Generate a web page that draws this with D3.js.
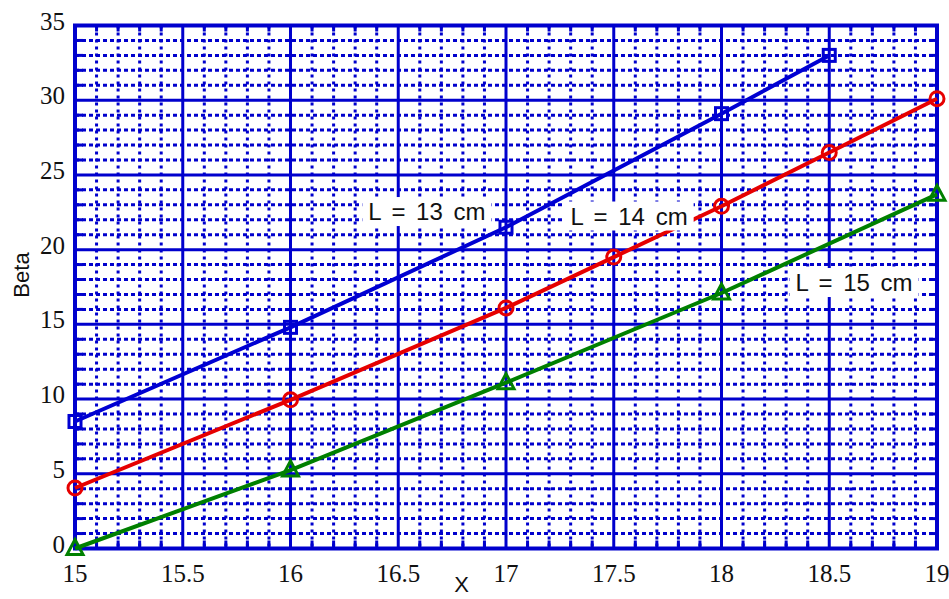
<!DOCTYPE html>
<html><head><meta charset="utf-8">
<script src="https://cdn.jsdelivr.net/npm/d3@7/dist/d3.min.js"></script>
<style>
body{margin:0;background:#fff;}
svg{display:block;}
</style></head>
<body>
<svg id="chart" width="949" height="599"></svg>
<script>
// ---- data ----
const xTicks = [15, 15.5, 16, 16.5, 17, 17.5, 18, 18.5, 19];
const yTicks = [0, 5, 10, 15, 20, 25, 30, 35];
const xL13 = [15, 16, 17, 18, 18.5];
const yL13 = [8.5, 14.8, 21.5, 29.1, 33.0];
const xL14 = [15, 16, 17, 17.5, 18, 18.5, 19];
const yL14 = [4.05, 9.95, 16.1, 19.5, 22.9, 26.5, 30.1];
const xL15 = [15, 16, 17, 18, 19];
const yL15 = [0, 5.25, 11.1, 17.1, 23.7];
const seriesNames = ["L = 13 cm", "L = 14 cm", "L = 15 cm"];
const labelPos = [[16.633, 22.55], [17.571, 22.25], [18.615, 17.8]]; // label centres in data units

const SERIF = "'Liberation Serif', 'Times New Roman', serif";
const SANS = "'Liberation Sans', Arial, sans-serif";

const svg = d3.select("#chart");
const pL = 75, pR = 937, pT = 25.5, pB = 548.5;
const x = d3.scaleLinear().domain([15, 19]).range([pL, pR]);
const y = d3.scaleLinear().domain([0, 35]).range([pB, pT]);
const blue = "rgb(0,0,205)";

const g = svg.append("g");
// minor grid
const minorX = d3.range(151, 190).map(v => v / 10).filter(v => Math.abs(v * 2 - Math.round(v * 2)) > 1e-6);
const minorY = d3.range(1, 35).filter(v => v % 5 !== 0);
g.selectAll(".mx").data(minorX).join("line")
  .attr("x1", d => x(d)).attr("x2", d => x(d)).attr("y1", pT).attr("y2", pB)
  .attr("stroke", blue).attr("stroke-width", 3).attr("stroke-dasharray", "3,4");
g.selectAll(".my").data(minorY).join("line")
  .attr("x1", pL).attr("x2", pR).attr("y1", d => y(d)).attr("y2", d => y(d))
  .attr("stroke", blue).attr("stroke-width", 3).attr("stroke-dasharray", "4,3");
// minor ticks
g.selectAll(".tb").data(minorX).join("line")
  .attr("x1", d => x(d)).attr("x2", d => x(d)).attr("y1", pB).attr("y2", pB - 8)
  .attr("stroke", blue).attr("stroke-width", 3);
g.selectAll(".tt").data(minorX).join("line")
  .attr("x1", d => x(d)).attr("x2", d => x(d)).attr("y1", pT).attr("y2", pT + 6)
  .attr("stroke", blue).attr("stroke-width", 3);
g.selectAll(".tl").data(minorY).join("line")
  .attr("x1", pL).attr("x2", pL + 8).attr("y1", d => y(d)).attr("y2", d => y(d))
  .attr("stroke", blue).attr("stroke-width", 3);
g.selectAll(".tr").data(minorY).join("line")
  .attr("x1", pR).attr("x2", pR - 8).attr("y1", d => y(d)).attr("y2", d => y(d))
  .attr("stroke", blue).attr("stroke-width", 3);
// major grid
g.selectAll(".Mx").data(xTicks).join("line")
  .attr("x1", d => x(d)).attr("x2", d => x(d)).attr("y1", pT).attr("y2", pB)
  .attr("stroke", blue).attr("stroke-width", 3);
g.selectAll(".My").data(yTicks).join("line")
  .attr("x1", pL).attr("x2", pR).attr("y1", d => y(d)).attr("y2", d => y(d))
  .attr("stroke", blue).attr("stroke-width", 3);
// frame
g.append("rect").attr("x", pL).attr("y", pT).attr("width", pR - pL).attr("height", pB - pT)
  .attr("fill", "none").attr("stroke", blue).attr("stroke-width", 4);

// tick labels
svg.append("g").selectAll("text").data(xTicks).join("text")
  .style("font-family", SERIF).style("font-size", "25px")
  .attr("x", d => x(d)).attr("y", 582).attr("text-anchor", "middle").attr("fill", "#111")
  .text(d => d);
svg.append("g").selectAll("text").data(yTicks).join("text")
  .style("font-family", SERIF).style("font-size", "25px")
  .attr("x", 65).attr("y", d => y(d) + 4).attr("text-anchor", "end").attr("fill", "#111")
  .text(d => d);
// axis titles
svg.append("text").style("font-family", SANS).style("font-size", "22px")
  .attr("x", 461.5).attr("y", 592).attr("text-anchor", "middle").attr("fill", "#111").text("X");
svg.append("text").style("font-family", SANS).style("font-size", "22px")
  .attr("transform", "translate(29,275) rotate(-90)").attr("text-anchor", "middle")
  .attr("fill", "#111").text("Beta");

// series
const series = [
  {xs: xL13, ys: yL13, color: "rgb(0,0,210)", marker: "square"},
  {xs: xL14, ys: yL14, color: "rgb(230,0,0)", marker: "circle"},
  {xs: xL15, ys: yL15, color: "rgb(0,128,0)", marker: "triangle"}
];
const line = d3.line().x(d => x(d[0])).y(d => y(d[1]));
series.forEach(s => {
  const pts = s.xs.map((v, i) => [v, s.ys[i]]);
  svg.append("path").datum(pts).attr("d", line).attr("fill", "none")
    .attr("stroke", s.color).attr("stroke-width", 4).attr("stroke-linejoin", "round");
  const mg = svg.append("g");
  pts.forEach(p => {
    const cx = x(p[0]), cy = y(p[1]);
    if (s.marker === "square") {
      mg.append("rect").attr("x", cx - 6).attr("y", cy - 6).attr("width", 12).attr("height", 12)
        .attr("fill", "none").attr("stroke", s.color).attr("stroke-width", 3);
    } else if (s.marker === "circle") {
      mg.append("circle").attr("cx", cx).attr("cy", cy).attr("r", 7)
        .attr("fill", "none").attr("stroke", s.color).attr("stroke-width", 3);
    } else {
      mg.append("path").attr("d", `M${cx},${cy - 9}L${cx + 8},${cy + 6}L${cx - 8},${cy + 6}Z`)
        .attr("fill", "none").attr("stroke", s.color).attr("stroke-width", 3).attr("stroke-linejoin", "miter");
    }
  });
});

// labels
seriesNames.forEach((name, i) => {
  const cx = x(labelPos[i][0]), cy = y(labelPos[i][1]);
  const lg = svg.append("g");
  const t = lg.append("text").style("font-family", SANS).style("font-size", "24px")
    .style("word-spacing", "4px").style("white-space", "pre")
    .attr("x", cx).attr("y", cy + 8.5).attr("text-anchor", "middle").attr("fill", "#111")
    .text(name);
  const bb = t.node().getBBox();
  lg.insert("rect", "text").attr("x", bb.x - 6).attr("y", bb.y - 1).attr("width", bb.width + 12)
    .attr("height", bb.height + 2).attr("fill", "#fff");
});
</script>
</body></html>
